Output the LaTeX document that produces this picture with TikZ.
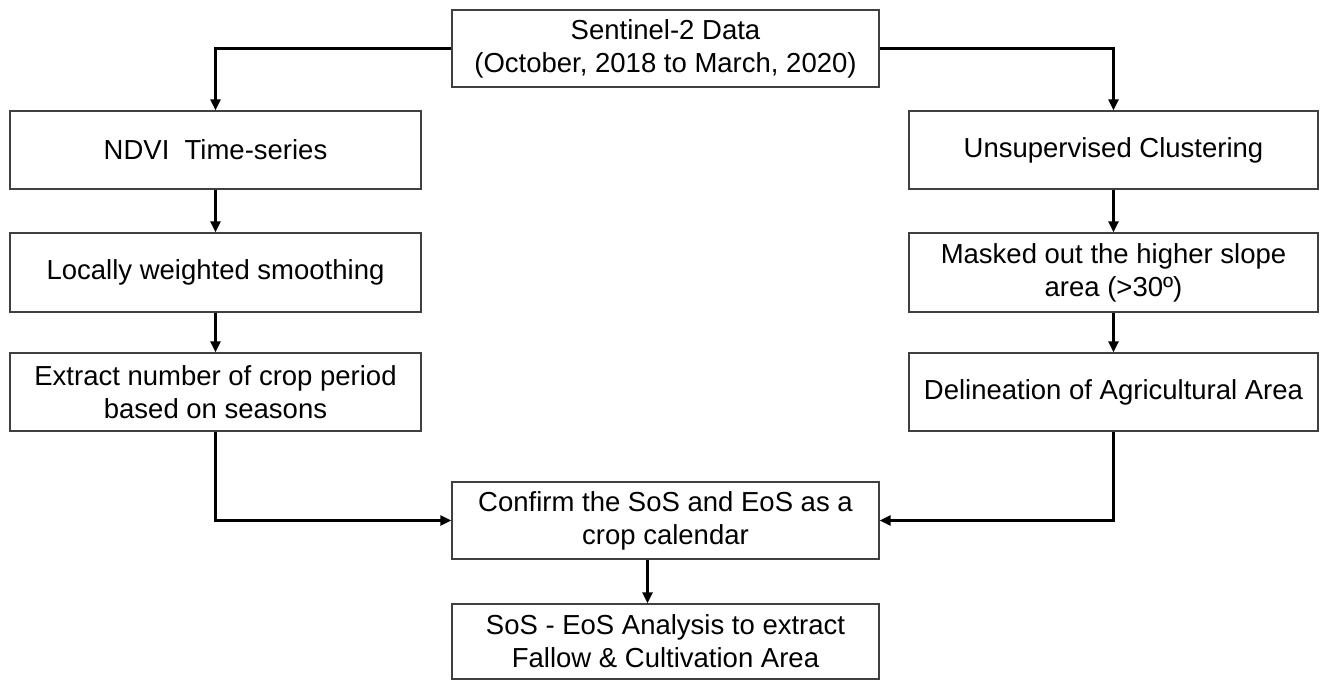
\documentclass[tikz,border=0pt]{standalone}
\usepackage{fontspec}
\setmainfont{Liberation Sans}
\usetikzlibrary{arrows.meta}
\begin{document}
\begin{tikzpicture}[x=1pt,y=-1pt,
  box/.style={draw=black!75, line width=1.3pt, fill=white, align=center,
    inner sep=0pt, font=\fontsize{27.5}{33}\selectfont},
  conn/.style={draw=black, line width=3.3pt,
    -{Triangle[length=11pt,width=10pt]}},
]
\useasboundingbox (0,0) rectangle (1320,680);
\fill[white] (0,0) rectangle (1320,680);

\node[box, minimum width=427pt, minimum height=77pt] (top) at (665.5,48.5)
  {Sentinel-2 Data\\(October, 2018 to March, 2020)};

\node[box, minimum width=411pt, minimum height=78pt] (ndvi) at (215.5,150)
  {NDVI \ Time-series};
\node[box, minimum width=411pt, minimum height=79pt] (smooth) at (215.5,272.5)
  {Locally weighted smoothing};
\node[box, minimum width=411pt, minimum height=78pt] (extract) at (215.5,392)
  {Extract number of crop period\\based on seasons};

\node[box, minimum width=409pt, minimum height=78pt] (unsup) at (1113.5,150)
  {Unsupervised Clustering};
\node[box, minimum width=409pt, minimum height=79pt] (mask) at (1113.5,272.5)
  {Masked out the higher slope\\area (>30º)};
\node[box, minimum width=409pt, minimum height=78pt] (delin) at (1113.5,392)
  {Delineation of Agricultural Area};

\node[box, minimum width=427pt, minimum height=77pt] (confirm) at (665.5,520.5)
  {Confirm the SoS and EoS as a\\crop calendar};
\node[box, minimum width=427pt, minimum height=75pt] (sos) at (665.5,641.5)
  {SoS - EoS Analysis to extract\\Fallow \& Cultivation Area};

\draw[conn] (top.west) -| (ndvi.north);
\draw[conn] (top.east) -| (unsup.north);
\draw[conn] (ndvi.south) -- (smooth.north);
\draw[conn] (smooth.south) -- (extract.north);
\draw[conn] (unsup.south) -- (mask.north);
\draw[conn] (mask.south) -- (delin.north);
\draw[conn] (extract.south) |- (confirm.west);
\draw[conn] (delin.south) |- (confirm.east);
\draw[conn] ([xshift=-18pt]confirm.south) -- ([xshift=-18pt]sos.north);
\end{tikzpicture}
\end{document}
